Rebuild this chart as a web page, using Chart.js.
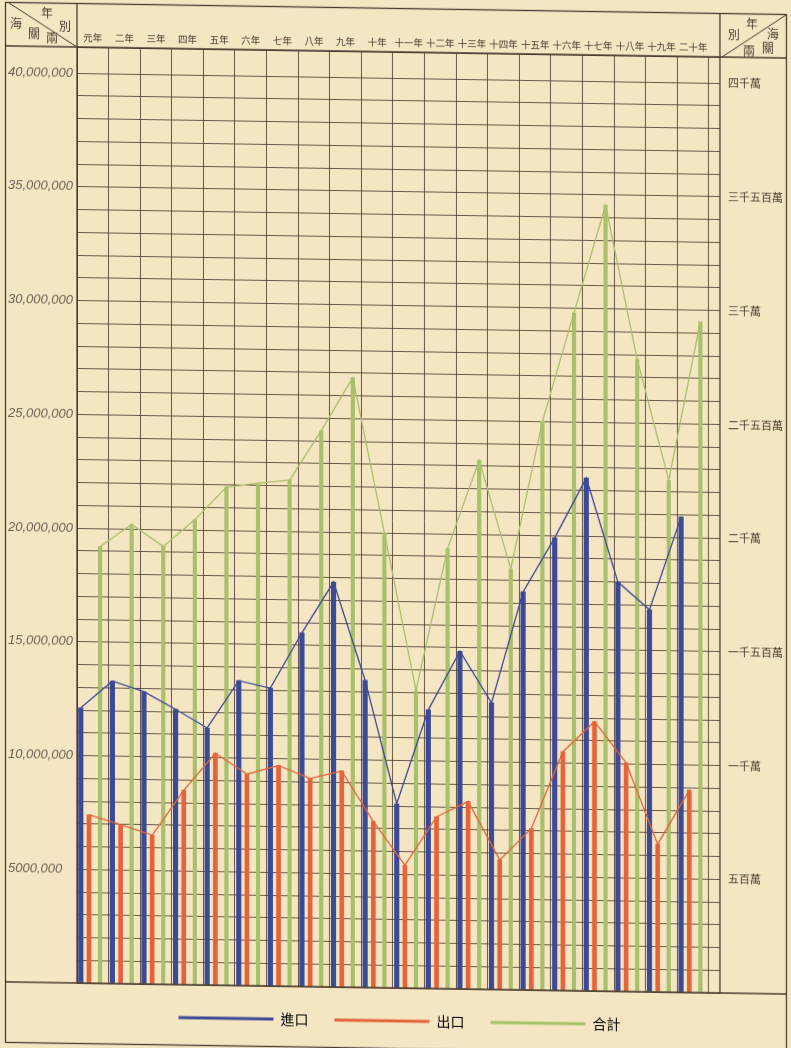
<!DOCTYPE html>
<html>
<head>
<meta charset="utf-8">
<script src="https://cdn.jsdelivr.net/npm/chart.js@4.4.1/dist/chart.umd.min.js"></script>
<style>
  html, body { margin: 0; padding: 0; background: #f4e5c3; }
  /* the sheet sits slightly askew: right edge runs ~10px lower */
  #trade { display: block; transform: skewY(0.89deg); transform-origin: 77px 0; }
</style>
</head>
<body>
<canvas id="trade" width="791" height="1048"></canvas>
<script>
// years of the period, left to right
const YEARS = ['元年', '二年', '三年', '四年', '五年', '六年', '七年', '八年', '九年', '十年',
  '十一年', '十二年', '十三年', '十四年', '十五年', '十六年', '十七年', '十八年', '十九年', '二十年'];

// Haikwan taels
const IMPORTS = [12100000, 13300000, 12850000, 12100000, 11300000, 13400000, 13100000, 15550000, 17800000, 13500000,
  8100000, 12250000, 14850000, 12600000, 17500000, 19900000, 22550000, 18000000, 16800000, 20900000];
const EXPORTS = [7400000, 7000000, 6550000, 8550000, 10200000, 9300000, 9700000, 9150000, 9500000, 7300000,
  5400000, 7550000, 8250000, 5700000, 7100000, 10500000, 11850000, 10050000, 6500000, 8900000];
const TOTALS = [19200000, 20200000, 19250000, 20450000, 21900000, 22100000, 22250000, 24450000, 26800000, 20000000,
  13100000, 19350000, 23250000, 18500000, 25000000, 29800000, 34550000, 27800000, 22500000, 29500000];

// labels every five million
const LEFT_TICKS = ['5000,000', '10,000,000', '15,000,000', '20,000,000', '25,000,000', '30,000,000', '35,000,000', '40,000,000'];
const RIGHT_TICKS = ['五百萬', '一千萬', '一千五百萬', '二千萬', '二千五百萬', '三千萬', '三千五百萬', '四千萬'];

const PAPER = '#f4e5c3';
const INK = '#4a3c2e';
const GRID = 'rgba(70, 55, 40, 0.8)';
const CJK = '"Noto Sans CJK TC", "Noto Sans CJK SC", sans-serif';

const SERIES = [
  { name: '進口', values: IMPORTS, color: '#3b4996', shift: 0.12, bar: 4.5 },
  { name: '出口', values: EXPORTS, color: '#e5633a', shift: 0.38, bar: 4 },
  { name: '合計', values: TOTALS, color: '#a8c069', shift: 0.73, bar: 3.5 }
];

const datasets = [];
SERIES.forEach(s => {
  const pts = s.values.map((v, i) => ({ x: i + s.shift, y: v }));
  // pencil stroke from the base line up to the value
  datasets.push({
    type: 'bar', label: s.name, data: pts, backgroundColor: s.color,
    barThickness: s.bar, grouped: false, order: 2
  });
  // thin line joining the tops
  datasets.push({
    type: 'line', label: s.name, data: pts, borderColor: s.color, borderWidth: 1.3,
    pointRadius: 0, tension: 0, fill: false, order: 1
  });
});

function yTicks(scale) {
  scale.ticks = Array.from({ length: 41 }, (_, i) => ({ value: i * 1000000 }));
}

// paper, ruled frame and the two corner cells of the header row
const sheet = {
  id: 'sheet',
  beforeDraw(chart) {
    const ctx = chart.ctx;
    ctx.save();
    ctx.fillStyle = PAPER;
    ctx.fillRect(0, 0, chart.width, chart.height);
    ctx.restore();
  },
  afterDraw(chart) {
    const { ctx, chartArea: a } = chart;
    const seg = (x1, y1, x2, y2) => { ctx.beginPath(); ctx.moveTo(x1, y1); ctx.lineTo(x2, y2); ctx.stroke(); };
    ctx.save();
    ctx.strokeStyle = INK;
    ctx.lineWidth = 1.3;
    ctx.strokeRect(5.5, 3.5, 781, 1040);
    seg(5, a.top, 787, a.top);
    seg(5, a.bottom, 787, a.bottom);
    seg(a.left, 3, a.left, a.bottom);
    seg(a.right, 3, a.right, a.bottom);
    ctx.lineWidth = 1;
    seg(9, 4, a.left, a.top);
    seg(a.right + 2, a.top, 786, 4);

    ctx.fillStyle = INK;
    ctx.font = '12px ' + CJK;
    ctx.textAlign = 'center';
    ctx.textBaseline = 'middle';
    [['年', 47, 13], ['別', 65, 26], ['海', 16, 24], ['關', 34, 34], ['兩', 52, 38],
     ['年', 752, 13], ['海', 773, 23], ['別', 734, 24], ['關', 768, 37], ['兩', 749, 40]]
      .forEach(([t, x, y]) => ctx.fillText(t, x, y));
    ctx.restore();
  }
};

new Chart(document.getElementById('trade'), {
  type: 'bar',
  data: { datasets },
  options: {
    responsive: false,
    animation: false,
    devicePixelRatio: 1,
    layout: { padding: { left: 8, right: 0, top: 0, bottom: 15 } },
    scales: {
      x: {
        type: 'linear', position: 'top', min: 0, max: 20.35, offset: false,
        grid: { offset: false, color: GRID, lineWidth: 1, drawTicks: false },
        border: { display: true, color: INK, width: 1 },
        afterBuildTicks: s => { s.ticks = Array.from({ length: 21 }, (_, i) => ({ value: i })); },
        afterFit: s => { s.height = 47; },
        ticks: {
          autoSkip: false, maxRotation: 0, minRotation: 0, padding: 4, labelOffset: 15.8,
          font: { family: CJK, size: 9.5 }, color: INK,
          callback: v => YEARS[v] || ''
        }
      },
      y: {
        type: 'linear', position: 'left', min: 0, max: 41150000,
        afterBuildTicks: yTicks,
        afterFit: s => { s.width = 69; },
        grid: { color: GRID, lineWidth: 1, drawTicks: false },
        border: { display: true, color: INK, width: 1 },
        ticks: {
          autoSkip: false, crossAlign: 'far',
          font: { family: '"Liberation Sans", sans-serif', size: 13, style: 'italic' }, color: '#6f6252',
          callback: v => (v > 0 && v % 5000000 === 0) ? LEFT_TICKS[v / 5000000 - 1] : ''
        }
      },
      y2: {
        type: 'linear', position: 'right', min: 0, max: 41150000,
        afterBuildTicks: yTicks,
        afterFit: s => { s.width = 71; },
        grid: { display: false, drawTicks: false },
        border: { display: false },
        ticks: {
          autoSkip: false, padding: 8,
          font: { family: CJK, size: 11 }, color: INK,
          callback: v => (v > 0 && v % 5000000 === 0) ? RIGHT_TICKS[v / 5000000 - 1] : ''
        }
      }
    },
    plugins: {
      tooltip: { enabled: false },
      legend: {
        position: 'bottom',
        labels: {
          boxWidth: 95, boxHeight: 3, padding: 26,
          font: { family: CJK, size: 14 }, color: INK,
          generateLabels: () => SERIES.map(s => ({
            text: s.name, fillStyle: s.color, strokeStyle: s.color, lineWidth: 0, hidden: false
          }))
        }
      }
    }
  },
  plugins: [sheet]
});
</script>
</body>
</html>
